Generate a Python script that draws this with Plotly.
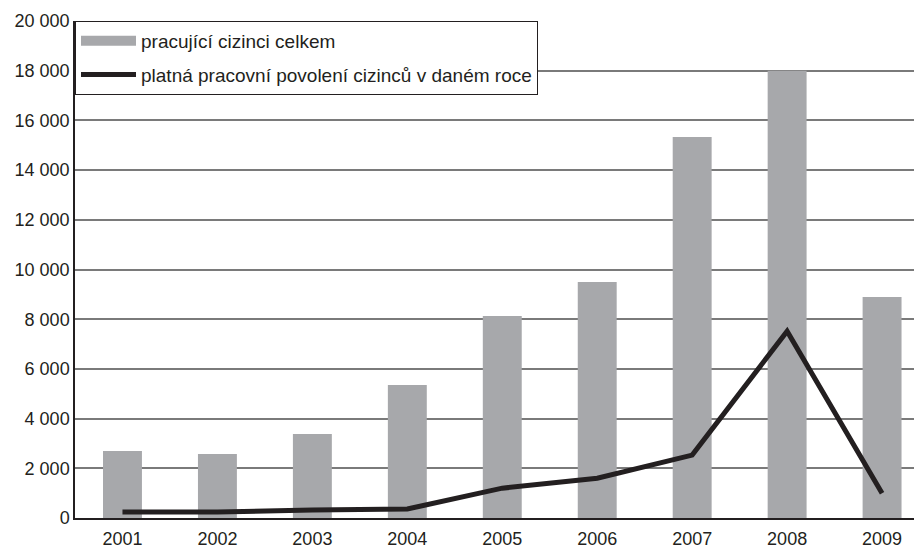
import plotly.graph_objects as go

years = ["2001", "2002", "2003", "2004", "2005", "2006", "2007", "2008", "2009"]
foreigners_total = [2700, 2580, 3380, 5350, 8130, 9500, 15330, 18000, 8890]
work_permits = [240, 240, 320, 360, 1200, 1600, 2530, 7520, 1000]
y_ticks = [0, 2000, 4000, 6000, 8000, 10000, 12000, 14000, 16000, 18000, 20000]
y_tick_labels = [f"{v:,}".replace(",", " ") for v in y_ticks]

name_bars = "pracující cizinci celkem"
name_line = "platná pracovní povolení cizinců v daném roce"

bar_color = "#a7a8ab"
line_color = "#231f20"

fig = go.Figure()
fig.add_trace(go.Bar(
    x=years, y=foreigners_total, name=name_bars,
    marker=dict(color=bar_color, line=dict(width=0)),
    width=0.41, showlegend=False,
))
# legend swatch for the bars (wide rectangle like the reference)
fig.add_trace(go.Scatter(
    x=[None], y=[None], mode="lines", name=name_bars,
    line=dict(color=bar_color, width=16), legendgroup="a",
))
fig.add_trace(go.Scatter(
    x=years, y=work_permits, mode="lines", name=name_line,
    line=dict(color=line_color, width=5), legendgroup="b",
))

# page body has an 8px margin, so the figure is sized/offset to compensate
fig.update_layout(
    width=914, height=543,
    margin=dict(l=67, r=1, t=13, b=33),
    paper_bgcolor="white", plot_bgcolor="white",
    font=dict(family="Liberation Sans, Arial, sans-serif", size=18, color="#231f20"),
    showlegend=True,
    legend=dict(
        x=0, y=1, xanchor="left", yanchor="top",
        bgcolor="white", bordercolor="#231f20", borderwidth=1,
        font=dict(size=19), itemwidth=55,
        traceorder="grouped", tracegroupgap=6,
    ),
    xaxis=dict(
        type="category", range=[-0.5, 8.41],
        showline=True, linecolor="#231f20", linewidth=1.5,
        ticks="", showgrid=False, tickfont=dict(size=18),
        ticklabelstandoff=4, automargin=False,
    ),
    yaxis=dict(
        range=[0, 20000], tickvals=y_ticks, ticktext=y_tick_labels,
        showline=True, linecolor="#231f20", linewidth=1.5,
        showgrid=True, gridcolor="#7a7a7a", gridwidth=1.5,
        ticks="", ticklen=0, tickfont=dict(size=18), zeroline=False,
        automargin=False,
    ),
)

fig.write_html("out.html")
